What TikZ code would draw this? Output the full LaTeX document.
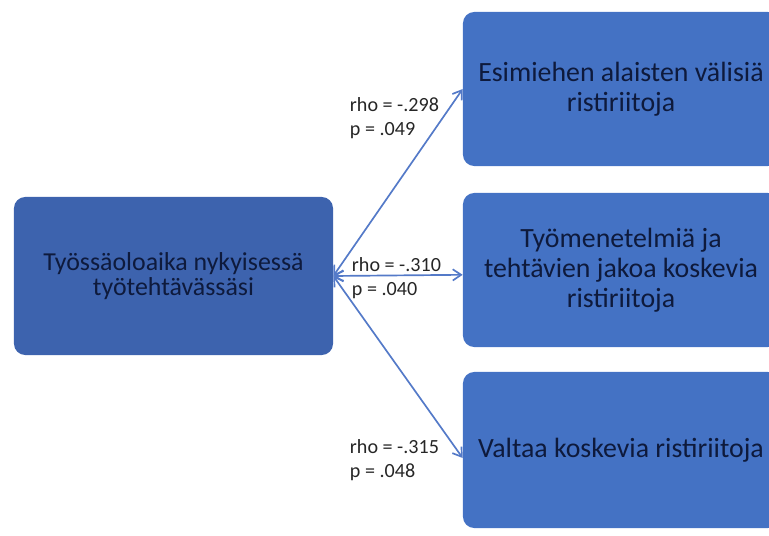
\documentclass[tikz,border=0pt]{standalone}
\usepackage{fontspec}
\setmainfont{Carlito}
\usetikzlibrary{arrows.meta}

\definecolor{kastenblau}{RGB}{68,114,196}
\definecolor{kastendunkel}{RGB}{61,99,174}
\definecolor{textblau}{RGB}{14,26,60}
\definecolor{pfeilblau}{RGB}{84,122,200}

\begin{document}
\begin{tikzpicture}[x=0.025cm, y=-0.025cm,
	kasten/.style={fill=kastenblau, rounded corners=8pt, minimum width=7.9cm, minimum height=3.85cm, align=center, text=textblau, font=\fontsize{19.8}{21.4}\selectfont},
	wert/.style={anchor=west, align=left, text=black!85, font=\fontsize{14.3}{17.3}\selectfont},
	pfeil/.style={line width=1.2pt, pfeilblau, {Straight Barb[length=6pt,width=8pt]}-{Straight Barb[length=6pt,width=8pt]}}]
	
	\useasboundingbox (0,0) rectangle (769,536);
	
	% Zeichnet linken Kasten (Arbeitsdauer)
	\node[kasten, fill=kastendunkel, minimum width=7.975cm, minimum height=3.95cm, font=\fontsize{18.4}{17.8}\selectfont] (dauer) at (173.5,276) {Työssäoloaika nykyisessä\\työtehtävässäsi};
	
	% Zeichnet die drei rechten Kasten
	\node[kasten] (esimies) at (621,89) {Esimiehen alaisten välisiä\\ristiriitoja};
	\node[kasten] (menetelma) at (621,270) {Työmenetelmiä ja\\tehtävien jakoa koskevia\\ristiriitoja};
	\node[kasten, minimum height=3.9cm] (valta) at (621,450) {Valtaa koskevia ristiriitoja};
	
	% Zeichnet Pfeil 1 (zu Esimiehen ...)
	\draw[pfeil] (dauer.east) -- (esimies.west);
	\node[wert] (wert1) at (345,118) {rho = -.298\\p = .049};
	
	% Zeichnet Pfeil 2 (zu Työmenetelmiä ...)
	\draw[pfeil] (dauer.east) -- ([yshift=-0.12cm]menetelma.west);
	\node[wert] (wert2) at (347,278) {rho = -.310\\p = .040};
	
	% Zeichnet Pfeil 3 (zu Valtaa ...)
	\draw[pfeil] (dauer.east) -- ([yshift=-0.2cm]valta.west);
	\node[wert] (wert3) at (345,460) {rho = -.315\\p = .048};
	
\end{tikzpicture}
\end{document}
